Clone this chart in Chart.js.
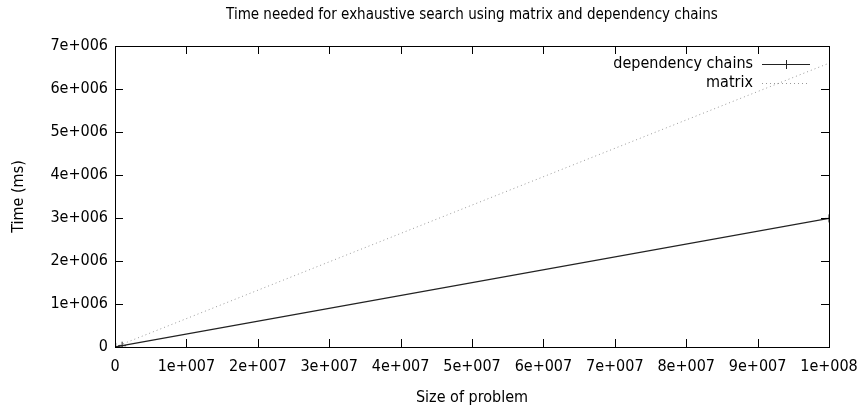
<!DOCTYPE html>
<html>
<head>
<meta charset="utf-8">
<script src="https://cdn.jsdelivr.net/npm/chart.js@4/dist/chart.umd.min.js"></script>
<style>
  html, body { margin: 0; padding: 0; background: #fff; overflow: hidden; }
  #wrap { width: 862px; height: 411px; }
</style>
</head>
<body>
<div id="wrap"><canvas id="chart"></canvas></div>
<script>
// values
const problemSizes = [100000, 1000000, 100000000];
const chainTimes = [3000, 30000, 2990000];
const matrixTimes = [6600, 66000, 6600000];
const xTicks = [0, 1e7, 2e7, 3e7, 4e7, 5e7, 6e7, 7e7, 8e7, 9e7, 1e8];
const yTicks = [0, 1e6, 2e6, 3e6, 4e6, 5e6, 6e6, 7e6];

const FONT = 'DejaVu Sans Condensed';

// gnuplot style 1e+006
function sci(v) {
  if (v === 0) return '0';
  const e = Math.floor(Math.log10(v) + 1e-9);
  const m = Math.round(v / Math.pow(10, e) * 100) / 100;
  return m + 'e+' + String(e).padStart(3, '0');
}

const toPts = (xs, ys) => xs.map((x, i) => ({ x: x, y: ys[i] }));

// frame, inward ticks, title and legend like gnuplot
const gnuplotBits = {
  id: 'gnuplotBits',
  afterDraw(chart) {
    const { ctx, chartArea: a, scales } = chart;
    ctx.save();
    ctx.strokeStyle = '#000';
    ctx.lineWidth = 1;
    ctx.strokeRect(Math.round(a.left) + 0.5, Math.round(a.top) + 0.5,
      Math.round(a.right - a.left), Math.round(a.bottom - a.top));
    ctx.beginPath();
    const tl = 8;
    xTicks.forEach(v => {
      const px = Math.round(scales.x.getPixelForValue(v)) + 0.5;
      ctx.moveTo(px, a.bottom); ctx.lineTo(px, a.bottom - tl);
      ctx.moveTo(px, a.top); ctx.lineTo(px, a.top + tl);
    });
    yTicks.forEach(v => {
      const py = Math.round(scales.y.getPixelForValue(v)) + 0.5;
      ctx.moveTo(a.left, py); ctx.lineTo(a.left + tl, py);
      ctx.moveTo(a.right, py); ctx.lineTo(a.right - tl, py);
    });
    ctx.stroke();

    // title
    ctx.fillStyle = '#000';
    ctx.font = '15px "' + FONT + '"';
    ctx.textAlign = 'center';
    ctx.textBaseline = 'middle';
    ctx.fillText('Time needed for exhaustive search using matrix and dependency chains',
      (a.left + a.right) / 2, 15);

    // legend
    const ds = chart.data.datasets;
    ctx.font = '16px "' + FONT + '"';
    ctx.textAlign = 'right';
    ds.forEach((d, i) => {
      const y = 64 + i * 19;
      ctx.fillStyle = '#000';
      ctx.fillText(d.label, 753, y);
      ctx.beginPath();
      ctx.strokeStyle = d.borderColor;
      ctx.setLineDash(d.borderDash || []);
      ctx.moveTo(762, y + 0.5); ctx.lineTo(810, y + 0.5);
      ctx.stroke();
      ctx.setLineDash([]);
      if (d.pointRadius > 0) {
        ctx.beginPath();
        ctx.moveTo(786.5, y - 4); ctx.lineTo(786.5, y + 5);
        ctx.stroke();
      }
    });
    ctx.restore();
  }
};

new Chart(document.getElementById('chart'), {
  type: 'scatter',
  data: {
    datasets: [
      {
        label: 'dependency chains',
        data: toPts(problemSizes, chainTimes),
        showLine: true,
        borderColor: '#222',
        backgroundColor: '#222',
        borderWidth: 1.2,
        pointStyle: 'cross',
        pointRadius: 4,
        pointBorderWidth: 1,
        order: 1
      },
      {
        label: 'matrix',
        data: toPts(problemSizes, matrixTimes),
        showLine: true,
        borderColor: '#999',
        borderWidth: 1,
        borderDash: [1, 3],
        pointRadius: 0,
        order: 2
      }
    ]
  },
  options: {
    responsive: true,
    maintainAspectRatio: false,
    animation: false,
    layout: { padding: { top: 46, right: 33, left: 0, bottom: 0 } },
    plugins: {
      legend: { display: false },
      title: { display: false },
      tooltip: { enabled: false }
    },
    scales: {
      x: {
        type: 'linear',
        min: 0,
        max: 1e8,
        afterFit(s) { s.height = 64; s.paddingLeft = 0; s.paddingRight = 0; },
        afterBuildTicks(s) { s.ticks = xTicks.map(v => ({ value: v })); },
        grid: { display: false, drawTicks: false },
        border: { display: false },
        ticks: {
          color: '#000',
          font: { family: FONT, size: 16 },
          padding: 10,
          maxRotation: 0,
          autoSkip: false,
          callback: v => sci(v)
        },
        title: {
          display: true,
          text: 'Size of problem',
          color: '#000',
          font: { family: FONT, size: 16 },
          padding: { top: 0, bottom: 4 }
        }
      },
      y: {
        type: 'linear',
        min: 0,
        max: 7e6,
        afterFit(s) { s.width = 115; s.paddingTop = 0; s.paddingBottom = 0; },
        afterBuildTicks(s) { s.ticks = yTicks.map(v => ({ value: v })); },
        grid: { display: false, drawTicks: false },
        border: { display: false },
        ticks: {
          color: '#000',
          font: { family: FONT, size: 16 },
          padding: 7,
          callback: v => sci(v)
        },
        title: {
          display: true,
          text: 'Time (ms)',
          color: '#000',
          font: { family: FONT, size: 16 },
          padding: { top: 9, bottom: 0 }
        }
      }
    }
  },
  plugins: [gnuplotBits]
});
</script>
</body>
</html>
